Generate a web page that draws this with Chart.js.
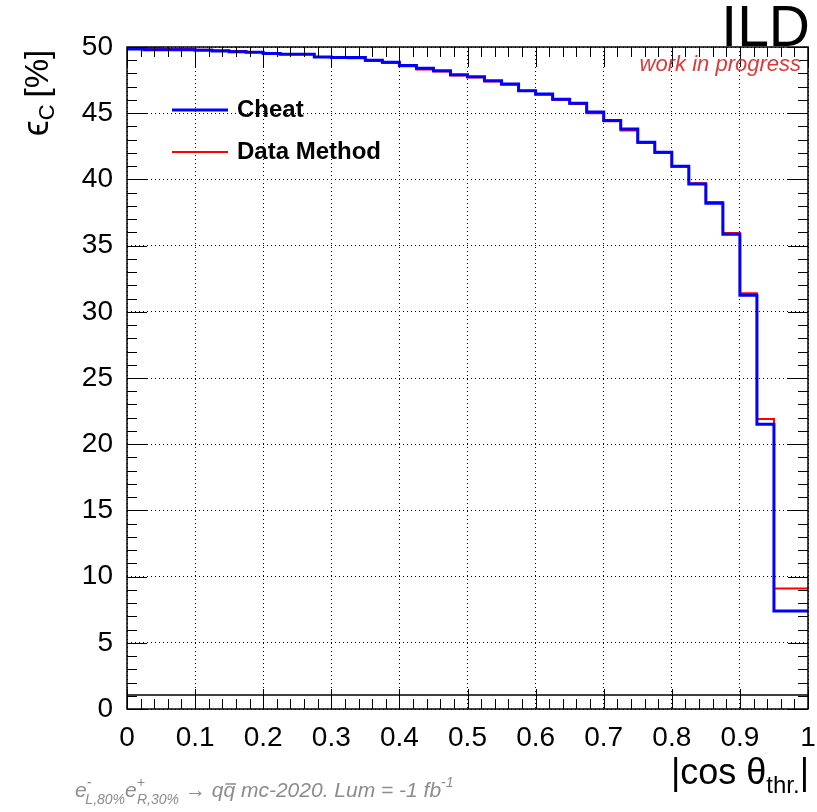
<!DOCTYPE html>
<html>
<head>
<meta charset="utf-8">
<script src="https://cdn.jsdelivr.net/npm/chart.js@4/dist/chart.umd.min.js"></script>
<style>
  html, body { margin: 0; padding: 0; background: #fff; }
  #wrap { width: 817px; height: 812px; position: relative; }
</style>
</head>
<body>
<div id="wrap"><canvas id="effChart" width="817" height="812"></canvas></div>
<script>
// |cos theta_thr| histogram, 40 bins from 0 to 1
const binWidth = 0.025;
const cheat = [49.85, 49.85, 49.8, 49.8, 49.8, 49.75, 49.7, 49.65, 49.6, 49.5,
               49.45, 49.45, 49.25, 49.2, 49.2, 49.0, 48.85, 48.6, 48.4, 48.2,
               47.9, 47.75, 47.45, 47.2, 46.7, 46.45, 46.05, 45.75, 45.1, 44.45,
               43.8, 42.8, 42.05, 41.0, 39.65, 38.2, 35.85, 31.25, 21.5, 7.4];
const dataMethod = [49.9, 49.9, 49.9, 49.85, 49.85, 49.8, 49.75, 49.7, 49.6, 49.5,
                    49.45, 49.45, 49.25, 49.2, 49.15, 48.95, 48.8, 48.55, 48.3, 48.15,
                    47.85, 47.7, 47.4, 47.15, 46.7, 46.4, 46.0, 45.7, 45.0, 44.4,
                    43.7, 42.75, 42.0, 40.95, 39.7, 38.3, 35.95, 31.4, 21.9, 9.1];
const floorLevel = 1.05;   // black reference line near the bottom
const xTicks = [0, 0.1, 0.2, 0.3, 0.4, 0.5, 0.6, 0.7, 0.8, 0.9, 1];
const yTicks = [0, 5, 10, 15, 20, 25, 30, 35, 40, 45, 50];

function histPoints(vals) {
  const pts = vals.map((v, i) => ({ x: i * binWidth, y: v }));
  pts.push({ x: vals.length * binWidth, y: vals[vals.length - 1] });
  return pts;
}

const FONT = '"Liberation Sans", Arial, Helvetica, sans-serif';

// draw a run of text pieces: {t, size, dy, style}
function richText(ctx, x, y, parts, color) {
  ctx.save();
  ctx.fillStyle = color;
  ctx.textBaseline = 'alphabetic';
  ctx.textAlign = 'left';
  let cx = x;
  for (const p of parts) {
    ctx.font = (p.style || '') + ' ' + p.size + 'px ' + FONT;
    ctx.fillText(p.t, cx, y + (p.dy || 0));
    const w = ctx.measureText(p.t).width;
    if (p.bar) {
      ctx.strokeStyle = color;
      ctx.lineWidth = 1.5;
      ctx.beginPath();
      ctx.moveTo(cx + 2, y - p.size * 0.62);
      ctx.lineTo(cx + w + 1, y - p.size * 0.62);
      ctx.stroke();
    }
    cx += w + (p.gap || 0);
  }
  ctx.restore();
  return cx;
}
function richWidth(ctx, parts) {
  let w = 0;
  for (const p of parts) {
    ctx.font = (p.style || '') + ' ' + p.size + 'px ' + FONT;
    w += ctx.measureText(p.t).width + (p.gap || 0);
  }
  return w;
}

const rootDecor = {
  id: 'rootDecor',
  afterDatasetsDraw(chart) {
    const ctx = chart.ctx;
    const a = chart.chartArea;
    const xs = chart.scales.x, ys = chart.scales.y;
    ctx.save();
    ctx.strokeStyle = '#000';
    ctx.lineWidth = 1;
    // inner ticks on y (left and right)
    for (let v = 0; v <= 50; v += 1) {
      const py = Math.round(ys.getPixelForValue(v)) + 0.5;
      const len = v % 5 === 0 ? 20 : 10;
      ctx.beginPath();
      ctx.moveTo(a.left, py); ctx.lineTo(a.left + len, py);
      ctx.moveTo(a.right, py); ctx.lineTo(a.right - len, py);
      ctx.stroke();
    }
    // inner ticks on x (bottom and top)
    for (let k = 0; k <= 50; k++) {
      const px = Math.round(xs.getPixelForValue(k * 0.02)) + 0.5;
      const len = k % 5 === 0 ? 20 : 10;
      ctx.beginPath();
      ctx.moveTo(px, a.bottom); ctx.lineTo(px, a.bottom - len);
      ctx.moveTo(px, a.top); ctx.lineTo(px, a.top + len);
      ctx.stroke();
    }
    // frame
    ctx.lineWidth = 1.5;
    ctx.strokeRect(a.left, a.top, a.right - a.left, a.bottom - a.top);

    // legend
    const legend = [
      { label: 'Cheat', color: '#0000ff', w: 3, y: 110 },
      { label: 'Data Method', color: '#ff0000', w: 2, y: 152 }
    ];
    for (const it of legend) {
      ctx.strokeStyle = it.color;
      ctx.lineWidth = it.w;
      ctx.beginPath();
      ctx.moveTo(172, it.y); ctx.lineTo(228, it.y);
      ctx.stroke();
      ctx.fillStyle = '#000';
      ctx.font = 'bold 24px ' + FONT;
      ctx.textBaseline = 'middle';
      ctx.fillText(it.label, 237, it.y);
    }

    // ILD and work in progress
    ctx.textBaseline = 'alphabetic';
    ctx.textAlign = 'right';
    ctx.fillStyle = '#000';
    ctx.font = '57px ' + FONT;
    ctx.fillText('ILD', 810, 46);
    ctx.fillStyle = '#d93b3b';
    ctx.font = 'italic 22px ' + FONT;
    ctx.fillText('work in progress', 801, 71);
    ctx.restore();

    // y title (rotated)
    ctx.save();
    ctx.translate(48, 93);
    ctx.rotate(-Math.PI / 2);
    const yParts = [
      { t: '\u03f5', size: 36 },
      { t: 'C', size: 22, dy: 6, gap: 7 },
      { t: '[%]', size: 33 }
    ];
    const yw = richWidth(ctx, yParts);
    richText(ctx, -yw / 2, 0, yParts, '#000');
    ctx.restore();

    // x title
    const xParts = [
      { t: '|cos \u03b8', size: 36 },
      { t: 'thr.', size: 24, dy: 9 },
      { t: '|', size: 36 }
    ];
    const xw = richWidth(ctx, xParts);
    richText(ctx, 809 - xw, 784, xParts, '#000');

    // footer
    const fParts = [
      { t: 'e', size: 21, style: 'italic' },
      { t: '-', size: 14, dy: -10, style: 'italic', gap: -6 },
      { t: 'L,80%', size: 14, dy: 7, style: 'italic' },
      { t: 'e', size: 21, style: 'italic' },
      { t: '+', size: 14, dy: -10, style: 'italic', gap: -8 },
      { t: 'R,30%', size: 14, dy: 7, style: 'italic', gap: 6 },
      { t: '\u2192 q', size: 21, style: 'italic' },
      { t: 'q', size: 21, style: 'italic', bar: true },
      { t: ' mc-2020. Lum = -1 fb', size: 21, style: 'italic' },
      { t: '-1', size: 14, dy: -10, style: 'italic' }
    ];
    richText(ctx, 75, 797, fParts, '#8c8c8c');
  }
};

const ctx = document.getElementById('effChart').getContext('2d');
new Chart(ctx, {
  type: 'line',
  data: {
    datasets: [
      {
        label: 'Cheat',
        data: histPoints(cheat),
        borderColor: '#0000ff',
        borderWidth: 3,
        stepped: 'after',
        pointRadius: 0,
        fill: false,
        order: 0
      },
      {
        label: 'Data Method',
        data: histPoints(dataMethod),
        borderColor: '#ff0000',
        borderWidth: 2,
        stepped: 'after',
        pointRadius: 0,
        fill: false,
        order: 1
      },
      {
        label: 'floor',
        data: [{ x: 0, y: floorLevel }, { x: 1, y: floorLevel }],
        borderColor: '#000',
        borderWidth: 1.5,
        pointRadius: 0,
        fill: false,
        order: 2
      }
    ]
  },
  options: {
    responsive: false,
    animation: false,
    layout: { padding: { top: 47, right: 0, left: 0, bottom: 0 } },
    plugins: { legend: { display: false }, tooltip: { enabled: false } },
    scales: {
      x: {
        type: 'linear',
        min: 0, max: 1,
        afterFit(s) { s.height = 103; s.paddingLeft = 0; s.paddingRight = 9; },
        afterBuildTicks(s) { s.ticks = xTicks.map(v => ({ value: v })); },
        ticks: {
          color: '#000',
          padding: 12,
          maxRotation: 0,
          font: { family: FONT, size: 28 },
          callback: v => (v === 0 || v === 1) ? String(v) : v.toFixed(1)
        },
        grid: { color: '#000', lineWidth: 1, drawTicks: false },
        border: { display: false, dash: [1, 3] }
      },
      y: {
        type: 'linear',
        min: 0, max: 50,
        afterFit(s) { s.width = 127; s.paddingTop = 0; s.paddingBottom = 0; },
        afterBuildTicks(s) { s.ticks = yTicks.map(v => ({ value: v })); },
        ticks: {
          color: '#000',
          padding: 14,
          font: { family: FONT, size: 28 }
        },
        grid: { color: '#000', lineWidth: 1, drawTicks: false },
        border: { display: false, dash: [1, 3] }
      }
    }
  },
  plugins: [rootDecor]
});
</script>
</body>
</html>
